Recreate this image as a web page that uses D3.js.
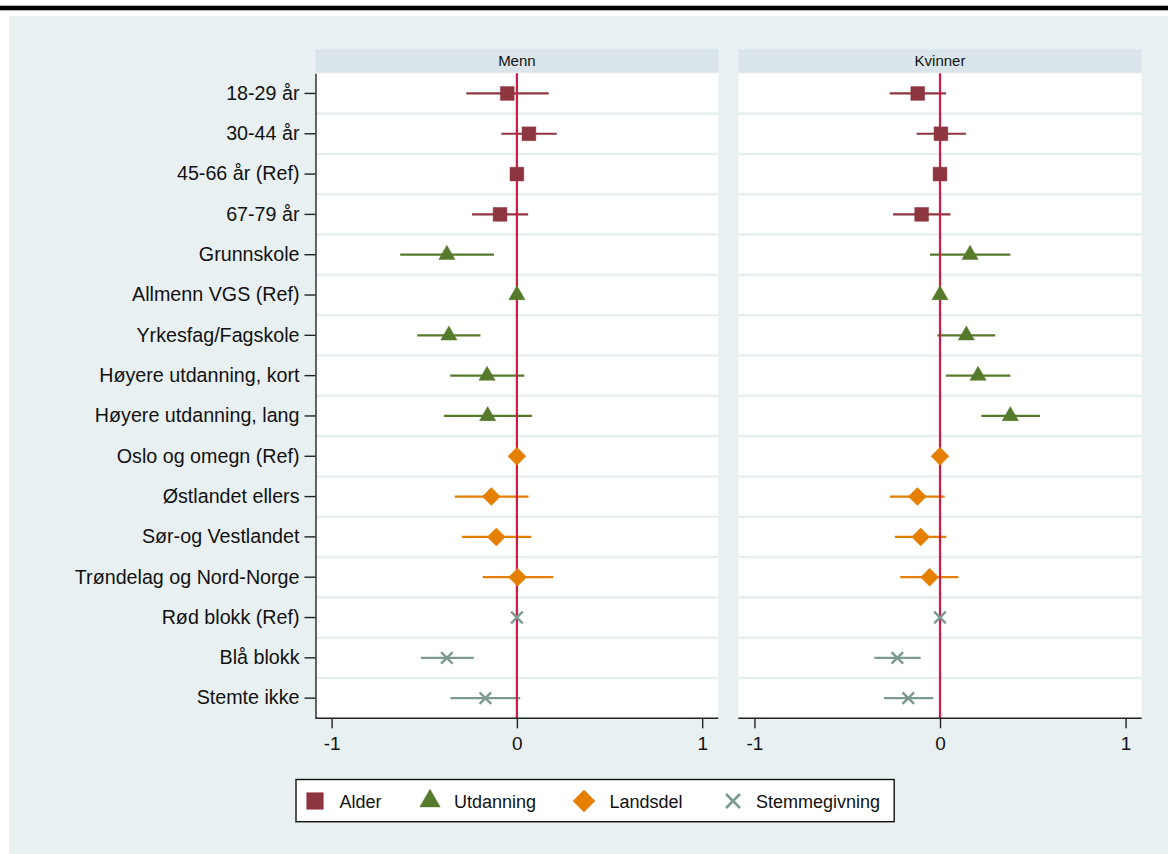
<!DOCTYPE html>
<html>
<head>
<meta charset="utf-8">
<script src="https://cdn.jsdelivr.net/npm/d3@7/dist/d3.min.js"></script>
<style>
  html, body { margin: 0; padding: 0; background: #ffffff; }
  svg { display: block; font-family: "Liberation Sans", Arial, sans-serif; }
</style>
</head>
<body>
<svg id="chart" width="1168" height="854"></svg>
<script>
// ---------- data ----------
const categories = [
  "18-29 år", "30-44 år", "45-66 år (Ref)", "67-79 år",
  "Grunnskole", "Allmenn VGS (Ref)", "Yrkesfag/Fagskole",
  "Høyere utdanning, kort", "Høyere utdanning, lang",
  "Oslo og omegn (Ref)", "Østlandet ellers", "Sør-og Vestlandet",
  "Trøndelag og Nord-Norge",
  "Rød blokk (Ref)", "Blå blokk", "Stemte ikke"
];
const groupOf = [
  "Alder", "Alder", "Alder", "Alder",
  "Utdanning", "Utdanning", "Utdanning", "Utdanning", "Utdanning",
  "Landsdel", "Landsdel", "Landsdel", "Landsdel",
  "Stemmegivning", "Stemmegivning", "Stemmegivning"
];
const groups = ["Alder", "Utdanning", "Landsdel", "Stemmegivning"];
const panels = ["Menn", "Kvinner"];

const mennEst = [-0.052, 0.065, 0, -0.091, -0.378, 0, -0.367, -0.161, -0.158, 0, -0.138, -0.111, 0.004, 0, -0.378, -0.170];
const mennLo  = [-0.273, -0.084, null, -0.242, -0.630, null, -0.538, -0.360, -0.394, null, -0.335, -0.297, -0.184, null, -0.518, -0.359];
const mennHi  = [0.172, 0.215, null, 0.061, -0.124, null, -0.197, 0.040, 0.081, null, 0.063, 0.077, 0.197, null, -0.233, 0.018];

const kvinnerEst = [-0.120, 0.005, 0, -0.099, 0.162, 0, 0.142, 0.205, 0.379, 0, -0.122, -0.104, -0.056, 0, -0.230, -0.171];
const kvinnerLo  = [-0.271, -0.126, null, -0.253, -0.054, null, -0.014, 0.032, 0.223, null, -0.270, -0.243, -0.214, null, -0.354, -0.302];
const kvinnerHi  = [0.032, 0.140, null, 0.056, 0.379, null, 0.298, 0.379, 0.539, null, 0.025, 0.034, 0.099, null, -0.104, -0.036];

const xTicks = [-1, 0, 1];
const xTickLabels = ["-1", "0", "1"];

// ---------- styles ----------
const colors = { Alder: "#8e3640", Utdanning: "#557a2b", Landsdel: "#e57f00", Stemmegivning: "#7d9a90" };
const bg = "#e9f0f2";
const stripBg = "#d9e5eb";

const svg = d3.select("#chart");

// top rule (cropped document caption area)
svg.append("rect").attr("x", 0).attr("y", 5.7).attr("width", 1168).attr("height", 4.6).attr("fill", "#000");
// figure background
svg.append("rect").attr("x", 9).attr("y", 16).attr("width", 1159).attr("height", 838).attr("fill", bg);

const plotTop = 73.3, plotBottom = 718.3;
const y = d3.scaleBand().domain(categories).range([plotTop, plotBottom]).padding(0);

const panelRanges = { Menn: [315.5, 718.3], Kvinner: [738.3, 1141.7] };
const panelData = {
  Menn: { est: mennEst, lo: mennLo, hi: mennHi },
  Kvinner: { est: kvinnerEst, lo: kvinnerLo, hi: kvinnerHi }
};

function markerPath(group, cx, cy, big) {
  const p = d3.path();
  if (group === "Alder") {
    const h = big ? 8.3 : 6.9;
    p.rect(cx - h, cy - h, 2 * h, 2 * h);
    return p.toString();
  }
  if (group === "Utdanning") {
    const w = big ? 10.2 : 8.1;
    const ht = w * Math.sqrt(3);
    p.moveTo(cx, cy - ht * 2 / 3);
    p.lineTo(cx + w, cy + ht / 3);
    p.lineTo(cx - w, cy + ht / 3);
    p.closePath();
    return p.toString();
  }
  if (group === "Landsdel") {
    const r = big ? 11 : 9;
    p.moveTo(cx, cy - r); p.lineTo(cx + r, cy); p.lineTo(cx, cy + r); p.lineTo(cx - r, cy); p.closePath();
    return p.toString();
  }
  const r = big ? 7 : 5.8;
  p.moveTo(cx - r, cy - r); p.lineTo(cx + r, cy + r);
  p.moveTo(cx + r, cy - r); p.lineTo(cx - r, cy + r);
  return p.toString();
}

panels.forEach(name => {
  const [x0, x1] = panelRanges[name];
  const x = d3.scaleLinear().domain([-1.087, 1.087]).range([x0, x1]);
  const d = panelData[name];
  const g = svg.append("g");

  // strip header
  g.append("rect").attr("x", x0).attr("y", 49.3).attr("width", x1 - x0).attr("height", 23.2).attr("fill", stripBg);
  g.append("text").attr("x", (x0 + x1) / 2).attr("y", 66).attr("text-anchor", "middle")
    .attr("font-size", 15).attr("fill", "#111").text(name);

  // plot region
  g.append("rect").attr("x", x0).attr("y", plotTop).attr("width", x1 - x0).attr("height", plotBottom - plotTop).attr("fill", "#fff");
  // row separators
  g.selectAll(".sep").data(categories.slice(1)).join("line")
    .attr("x1", x0).attr("x2", x1)
    .attr("y1", c => y(c)).attr("y2", c => y(c))
    .attr("stroke", "#e8eff1").attr("stroke-width", 2.6);

  // CI lines
  g.selectAll(".ci").data(categories.map((c, i) => i).filter(i => d.lo[i] !== null)).join("line")
    .attr("x1", i => x(d.lo[i])).attr("x2", i => x(d.hi[i]))
    .attr("y1", i => y(categories[i]) + y.bandwidth() / 2)
    .attr("y2", i => y(categories[i]) + y.bandwidth() / 2)
    .attr("stroke", i => colors[groupOf[i]]).attr("stroke-width", 2.2);

  // reference line at 0
  g.append("line").attr("x1", x(0)).attr("x2", x(0)).attr("y1", plotTop).attr("y2", plotBottom)
    .attr("stroke", "#d21a45").attr("stroke-width", 2.2);

  // markers
  g.selectAll(".mk").data(categories.map((c, i) => i)).join("path")
    .attr("d", i => markerPath(groupOf[i], x(d.est[i]), y(categories[i]) + y.bandwidth() / 2, false))
    .attr("fill", i => groupOf[i] === "Stemmegivning" ? "none" : colors[groupOf[i]])
    .attr("stroke", i => colors[groupOf[i]])
    .attr("stroke-width", i => groupOf[i] === "Stemmegivning" ? 2.4 : 0.5);

  // x axis
  const xa = g.append("g").attr("transform", `translate(0,${plotBottom})`)
    .call(d3.axisBottom(x).tickValues(xTicks).tickFormat((v, i) => xTickLabels[i])
      .tickSize(10).tickSizeOuter(0).tickPadding(8));
  xa.select(".domain").attr("stroke", "#222").attr("stroke-width", 1.4).attr("d", `M${x0},0H${x1}`);
  xa.selectAll(".tick line").attr("stroke", "#222").attr("stroke-width", 1.4);
  xa.selectAll(".tick text").attr("font-size", 19).attr("fill", "#111")
    .attr("font-family", "Liberation Sans, Arial, sans-serif");

  if (name === "Menn") {
    const ya = g.append("g").attr("transform", `translate(${x0},0)`)
      .call(d3.axisLeft(y).tickSize(11).tickSizeOuter(0).tickPadding(5));
    ya.select(".domain").attr("stroke", "#222").attr("stroke-width", 1.4);
    ya.selectAll(".tick line").attr("stroke", "#222").attr("stroke-width", 1.4);
    ya.selectAll(".tick text").attr("font-size", 19.7).attr("fill", "#111")
      .attr("font-family", "Liberation Sans, Arial, sans-serif");
  }
});

// legend
const lg = svg.append("g");
lg.append("rect").attr("x", 296).attr("y", 779.5).attr("width", 598.2).attr("height", 42.2)
  .attr("fill", "#fff").attr("stroke", "#111").attr("stroke-width", 1.4);
const legendMarkerX = [315, 430, 584, 733];
const legendTextX = [339.5, 454, 609.4, 756];
groups.forEach((gname, i) => {
  lg.append("path").attr("d", markerPath(gname, legendMarkerX[i], 801, true))
    .attr("fill", gname === "Stemmegivning" ? "none" : colors[gname])
    .attr("stroke", colors[gname]).attr("stroke-width", gname === "Stemmegivning" ? 2.6 : 0.5);
  lg.append("text").attr("x", legendTextX[i]).attr("y", 801.5).attr("dy", "0.35em")
    .attr("font-size", 18).attr("fill", "#111").text(gname);
});
</script>
</body>
</html>
